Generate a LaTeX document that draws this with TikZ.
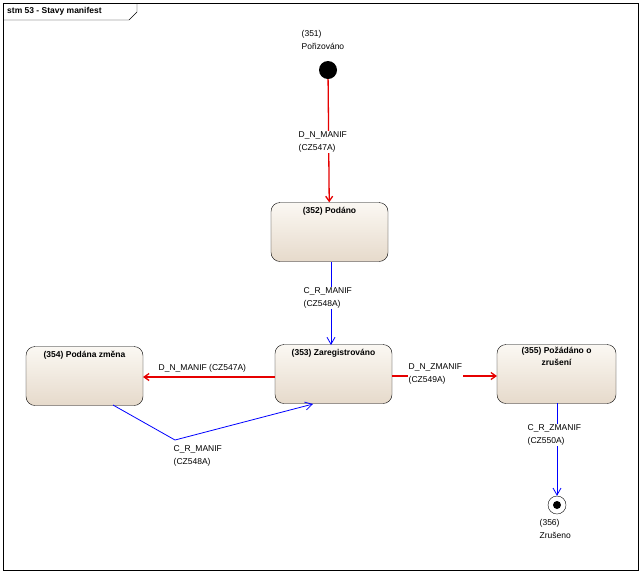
\documentclass[tikz,border=0pt]{standalone}
\usepackage{fontspec}
\setmainfont{Liberation Sans}
\usetikzlibrary{arrows.meta}
\definecolor{stbot}{HTML}{E6DACB}
\definecolor{sttop}{HTML}{FBF8F3}
\begin{document}
\begin{tikzpicture}[x=1pt,y=-1pt,
  lbl/.style={font=\fontsize{8.5}{13}\selectfont,align=left,inner sep=0.5pt,fill=white},
  state/.style={draw=black,rounded corners=9pt,minimum width=117pt,minimum height=59pt,top color=sttop,bottom color=stbot,shading angle=0},
  stt/.style={font=\bfseries\fontsize{8.5}{12}\selectfont,align=center,inner sep=0pt},
  red/.style={draw={rgb,255:red,230;green,0;blue,0},line width=1.3pt,-{Straight Barb[length=5pt,width=7pt]}},
  blue/.style={draw=blue,line width=0.8pt,-{Straight Barb[length=7pt,width=8pt]}}]
\useasboundingbox (0,0) rectangle (642,574);
\draw[fill=white] (3,3) rectangle (638,570);
\draw (3,20) -- (129,20) -- (137,12) -- (137,3);
\node[inner sep=0pt,font=\bfseries\fontsize{8.5}{9}\selectfont,anchor=west] (title) at (7,11) {stm 53 - Stavy manifest};

\node[circle,fill=black,minimum size=18pt,inner sep=0pt] (init) at (328,70) {};
\node[lbl,anchor=north west] (l351) at (301,30) {(351)\\Pořizováno};

\node[state] (s352) at (329.5,232) {};
\node[stt,anchor=north] at (s352.north) [yshift=-5pt] {(352) Podáno};
\node[state] (s353) at (333.5,374) {};
\node[stt,anchor=north] at (s353.north) [yshift=-5pt] {(353) Zaregistrováno};
\node[state] (s354) at (84.5,376) {};
\node[stt,anchor=north] at (s354.north) [yshift=-5pt] {(354) Podána změna};
\node[state,minimum width=119pt] (s355) at (556.5,374) {};
\node[stt,anchor=north] at (s355.north) [yshift=-3pt] {(355) Požádáno o\\zrušení};

\node[circle,draw=black,fill=white,minimum size=18pt,inner sep=0pt] (fin) at (557,505) {};
\node[circle,fill=black,minimum size=8pt,inner sep=0pt] (fdot) at (fin) {};
\node[lbl,anchor=north west] (l356) at (539,519) {(356)\\Zrušeno};

\draw[red] (init) -- (s352);
\node[lbl,anchor=west] at (298,142) {D\_N\_MANIF\\(CZ547A)};
\coordinate (b0) at (331,262); \coordinate (b1) at (331,345);
\draw[blue] (b0) -- (b1);
\node[lbl,anchor=west] at (303,298) {C\_R\_MANIF\\(CZ548A)};

\coordinate (a1) at (275,377); \coordinate (a2) at (143,377);
\draw[red] (a1) -- (a2);
\node[lbl,anchor=west] at (158,368) {D\_N\_MANIF (CZ547A)};

\coordinate (c1) at (113,405); \coordinate (c2) at (175,440); \coordinate (c3) at (313,404);
\draw[blue] (c1) -- (c2) -- (c3);
\node[lbl,anchor=west] at (173,456) {C\_R\_MANIF\\(CZ548A)};

\coordinate (d1) at (392,376); \coordinate (d2) at (497,376);
\draw[red] (d1) -- (d2);
\node[lbl,anchor=west] at (408,374) {D\_N\_ZMANIF\\(CZ549A)};

\coordinate (e1) at (557,403);
\draw[blue] (e1) -- (fin);
\node[lbl,anchor=west] at (527,435) {C\_R\_ZMANIF\\(CZ550A)};
\end{tikzpicture}
\end{document}
